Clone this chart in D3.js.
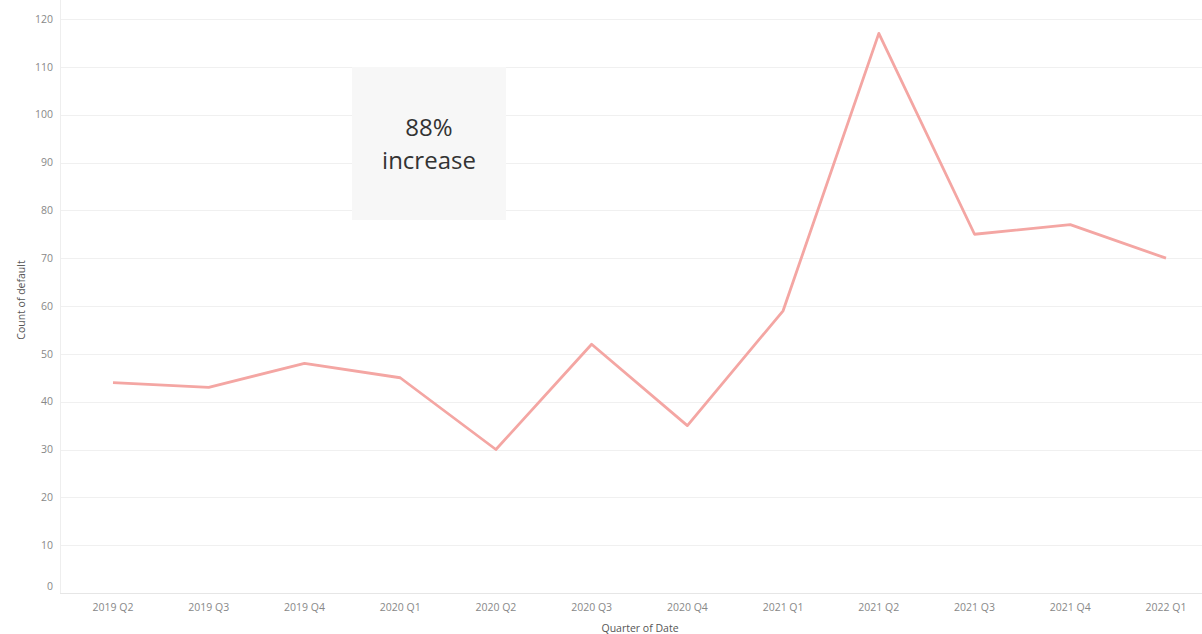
<!DOCTYPE html>
<html>
<head>
<meta charset="utf-8">
<script src="https://cdn.jsdelivr.net/npm/d3@7"></script>
<style>
  body { margin: 0; background: #fff; }
  text { font-family: "Open Sans", "Noto Sans", sans-serif; }
</style>
</head>
<body>
<div id="chart"></div>
<script>
// data
var quarters = ["2019 Q2", "2019 Q3", "2019 Q4", "2020 Q1", "2020 Q2", "2020 Q3",
                "2020 Q4", "2021 Q1", "2021 Q2", "2021 Q3", "2021 Q4", "2022 Q1"];
var defaults = [44, 43, 48, 45, 30, 52, 35, 59, 117, 75, 77, 70];
var yTicks = [0, 10, 20, 30, 40, 50, 60, 70, 80, 90, 100, 110, 120];

var w = 1202, h = 634;
var plotLeft = 60, plotTop = 19, plotBottom = 593;

var svg = d3.select("#chart").append("svg")
  .attr("width", w)
  .attr("height", h);

var x = d3.scalePoint()
  .domain(quarters)
  .range([113, 1166]);

var y = d3.scaleLinear()
  .domain([0, 120])
  .range([plotBottom, plotTop]);

// gridlines
svg.append("g")
  .selectAll("line")
  .data(yTicks)
  .enter()
  .append("line")
  .attr("x1", plotLeft)
  .attr("x2", w)
  .attr("y1", function (d) { return Math.round(y(d)) + 0.5; })
  .attr("y2", function (d) { return Math.round(y(d)) + 0.5; })
  .attr("stroke", function (d) { return d == 0 ? "#e6e6e6" : "#f0f0f0"; })
  .attr("stroke-width", 1);

// y axis line
svg.append("line")
  .attr("x1", plotLeft + 0.5).attr("x2", plotLeft + 0.5)
  .attr("y1", 0).attr("y2", plotBottom)
  .attr("stroke", "#eeeeee");

// annotation box
svg.append("rect")
  .attr("x", 352).attr("y", 67)
  .attr("width", 154).attr("height", 153)
  .attr("fill", "#f7f7f7");

svg.append("text")
  .attr("x", 429).attr("y", 136)
  .attr("text-anchor", "middle")
  .attr("font-size", 24)
  .attr("fill", "#333")
  .text("88%");

svg.append("text")
  .attr("x", 429).attr("y", 169)
  .attr("text-anchor", "middle")
  .attr("font-size", 24)
  .attr("fill", "#333")
  .text("increase");

// y tick labels
svg.append("g")
  .selectAll("text")
  .data(yTicks)
  .enter()
  .append("text")
  .attr("x", 53)
  .attr("y", function (d) { return d == 0 ? y(d) - 7 : y(d); })
  .attr("dy", ".35em")
  .attr("text-anchor", "end")
  .attr("font-size", 10.5)
  .attr("fill", "#888")
  .text(function (d) { return d; });

// x tick labels
svg.append("g")
  .selectAll("text")
  .data(quarters)
  .enter()
  .append("text")
  .attr("x", function (d) { return x(d); })
  .attr("y", 611)
  .attr("text-anchor", "middle")
  .attr("font-size", 10.5)
  .attr("fill", "#888")
  .text(function (d) { return d; });

// axis titles
svg.append("text")
  .attr("x", 640).attr("y", 632)
  .attr("text-anchor", "middle")
  .attr("font-size", 10.5)
  .attr("fill", "#555")
  .text("Quarter of Date");

svg.append("text")
  .attr("transform", "translate(25,300) rotate(-90)")
  .attr("text-anchor", "middle")
  .attr("font-size", 10.5)
  .attr("fill", "#555")
  .text("Count of default");

// the line
var line = d3.line()
  .x(function (d, i) { return x(quarters[i]); })
  .y(function (d) { return y(d); });

svg.append("path")
  .datum(defaults)
  .attr("d", line)
  .attr("fill", "none")
  .attr("stroke", "#f4a6a3")
  .attr("stroke-width", 2.8)
  .attr("stroke-linejoin", "round");
</script>
</body>
</html>
